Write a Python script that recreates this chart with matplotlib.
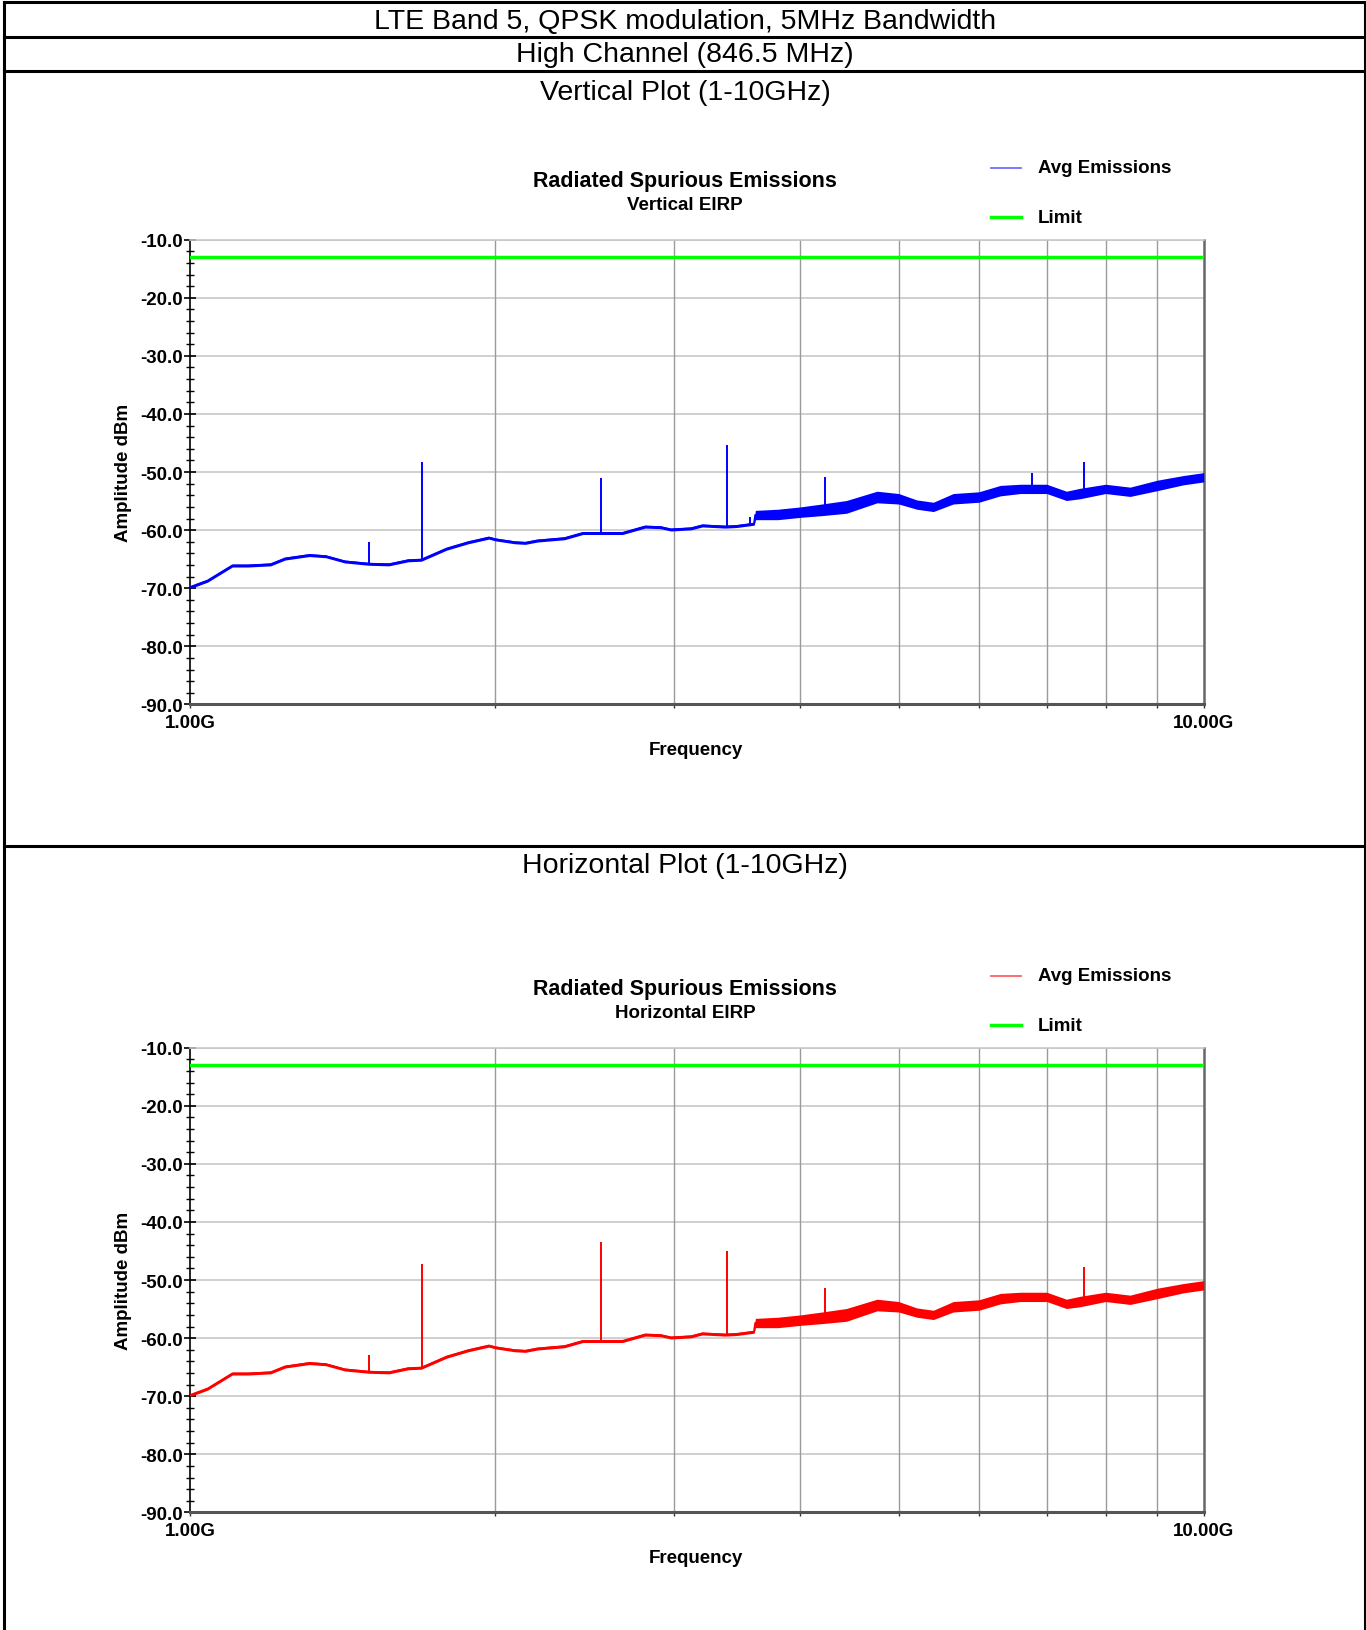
import numpy as np
import matplotlib.pyplot as plt
from matplotlib.lines import Line2D
from matplotlib.ticker import FixedLocator, MultipleLocator, NullFormatter

plt.rcParams['font.family'] = ['Liberation Sans', 'DejaVu Sans']

# ---- measured data (GHz / dBm) ----
freq_ghz = [1.00, 1.04, 1.10, 1.14, 1.20, 1.24, 1.31, 1.36, 1.42, 1.50, 1.57, 1.64,
            1.69, 1.79, 1.88, 1.97, 2.00, 2.09, 2.14, 2.20, 2.34, 2.44, 2.57, 2.67,
            2.81, 2.91, 2.98, 3.12, 3.20, 3.37, 3.46, 3.60, 3.61, 3.80, 4.00, 4.20,
            4.44, 4.76, 5.00, 5.21, 5.41, 5.66, 6.00, 6.30, 6.59, 7.00, 7.32, 7.55,
            8.00, 8.46, 9.00, 9.55, 10.0]
floor_dbm = [-69.8, -68.7, -66.1, -66.1, -65.9, -64.9, -64.3, -64.5, -65.4, -65.8, -65.9, -65.2,
             -65.1, -63.2, -62.1, -61.3, -61.6, -62.1, -62.2, -61.8, -61.4, -60.5, -60.5, -60.5,
             -59.4, -59.5, -59.9, -59.7, -59.2, -59.4, -59.3, -58.9, -57.4, -57.3, -56.9, -56.5,
             -56.0, -54.3, -54.6, -55.6, -56.0, -54.6, -54.3, -53.2, -52.9, -52.9, -54.1, -53.7,
             -52.9, -53.4, -52.3, -51.4, -50.9]
# half-width of the noise band around the floor
spread_db = [0.25] * 32 + [0.8, 0.9, 0.9, 1.0, 1.1, 1.0, 0.9, 0.8, 0.8, 0.9, 0.9, 0.9,
                           0.8, 0.8, 0.8, 0.9, 0.8, 0.8, 0.9, 0.8, 0.8]

v_spike_ghz = [1.50, 1.693, 2.540, 3.386, 3.567, 4.233, 6.772, 7.619]
v_spike_dbm = [-62.1, -48.3, -51.1, -45.4, -57.8, -50.9, -50.1, -48.2]
h_spike_ghz = [1.50, 1.693, 2.540, 3.386, 4.233, 7.619]
h_spike_dbm = [-62.9, -47.3, -43.5, -45.0, -51.3, -47.7]

limit_dbm = -13.0
y_ticks = [-90, -80, -70, -60, -50, -40, -30, -20, -10]

W, H = 1366, 1631
fig = plt.figure(figsize=(W / 100, H / 100), dpi=100)


def fx(x):
    return x / W


def fy(y):
    return 1 - y / H


def hline(y, x0=4, x1=1365, lw=2.2):
    fig.add_artist(Line2D([fx(x0), fx(x1)], [fy(y), fy(y)], color='black', lw=lw,
                          transform=fig.transFigure))


# page frame
hline(3)
hline(38)
hline(72)
hline(847)
for x in (4, 1365):
    fig.add_artist(Line2D([fx(x), fx(x)], [fy(3), fy(H)], color='black', lw=2.2,
                          transform=fig.transFigure))

fig.text(fx(685), fy(22), 'LTE Band 5, QPSK modulation, 5MHz Bandwidth',
         ha='center', va='center', fontsize=20.5)
fig.text(fx(685), fy(55.5), 'High Channel (846.5 MHz)', ha='center', va='center', fontsize=20.5)
fig.text(fx(685), fy(92.5), 'Vertical Plot (1-10GHz)', ha='center', va='center', fontsize=20.5)
fig.text(fx(685), fy(866.5), 'Horizontal Plot (1-10GHz)', ha='center', va='center', fontsize=20.5)


def panel(top, color, legend_color, subtitle, spike_f, spike_v):
    left, right, bottom = 190.4, 1203.7, top + 464.7
    ax = fig.add_axes([fx(left), fy(bottom), fx(right - left), (bottom - top) / H])
    ax.set_xscale('log')

    f = np.array(freq_ghz)
    v = np.array(floor_dbm)
    s = np.array(spread_db)
    ax.fill_between(f, v - s, v + s, color=color, lw=0, zorder=3)
    ax.plot(f, v, color=color, lw=1.5, zorder=3)
    base = np.interp(np.log10(spike_f), np.log10(f), v)
    ax.vlines(spike_f, base, spike_v, color=color, lw=1.4, zorder=3)
    ax.axhline(limit_dbm, color='#00ff00', lw=2.5, zorder=4)

    # grid
    for g in y_ticks[1:]:
        ax.axhline(g, color='#c8c8c8', lw=1.2, zorder=1)
    for g in range(2, 10):
        ax.axvline(g, color='#9a9a9a', lw=1.0, zorder=1)

    ax.xaxis.set_major_locator(FixedLocator([1, 10]))
    ax.xaxis.set_minor_locator(FixedLocator(range(2, 10)))
    ax.xaxis.set_minor_formatter(NullFormatter())
    ax.set_xticklabels(['1.00G', '10.00G'], fontsize=13.5, fontweight='bold')
    ax.tick_params(axis='x', which='both', direction='out', length=3, width=1,
                   color='#333333', pad=4)

    ax.set_yticks(y_ticks)
    ax.set_yticklabels([f'{t:.1f}' for t in y_ticks], fontsize=13.5, fontweight='bold')
    ax.yaxis.set_minor_locator(MultipleLocator(2))
    ax.tick_params(axis='y', which='major', direction='inout', length=9, width=1.2, pad=1)
    ax.tick_params(axis='y', which='minor', direction='inout', length=6, width=1)

    ax.set_xlim(1, 10)
    ax.set_ylim(-90, -10)

    ax.spines['left'].set_color('black')
    ax.spines['left'].set_linewidth(1.2)
    ax.spines['bottom'].set_color('#555555')
    ax.spines['bottom'].set_linewidth(2.2)
    ax.spines['right'].set_color('#666666')
    ax.spines['right'].set_linewidth(1.8)
    ax.spines['top'].set_color('#c8c8c8')
    ax.spines['top'].set_linewidth(1.2)

    ax.text(-0.066, 0.5, 'Amplitude dBm', rotation=90, transform=ax.transAxes,
            ha='center', va='center', fontsize=13.5, fontweight='bold')
    fig.text(fx(696), fy(bottom + 45), 'Frequency', ha='center', va='center',
             fontsize=13.5, fontweight='bold')

    fig.text(fx(685), fy(top - 59), 'Radiated Spurious Emissions', ha='center', va='center',
             fontsize=15.5, fontweight='bold')
    fig.text(fx(685), fy(top - 35), subtitle, ha='center', va='center',
             fontsize=13.5, fontweight='bold')

    # legend
    for y, c, lw, label in ((top - 72, legend_color, 1.3, 'Avg Emissions'),
                            (top - 22.5, '#00ff00', 2.5, 'Limit')):
        fig.add_artist(Line2D([fx(991), fx(1021)], [fy(y), fy(y)], color=c, lw=lw,
                              transform=fig.transFigure))
        fig.text(fx(1038), fy(y), label, ha='left', va='center',
                 fontsize=13.5, fontweight='bold')


panel(240.7, '#0000ff', '#7070ff', 'Vertical EIRP', v_spike_ghz, v_spike_dbm)
panel(1048.7, '#ff0000', '#ff6060', 'Horizontal EIRP', h_spike_ghz, h_spike_dbm)

fig.savefig('out.png', dpi=100, facecolor='white')
